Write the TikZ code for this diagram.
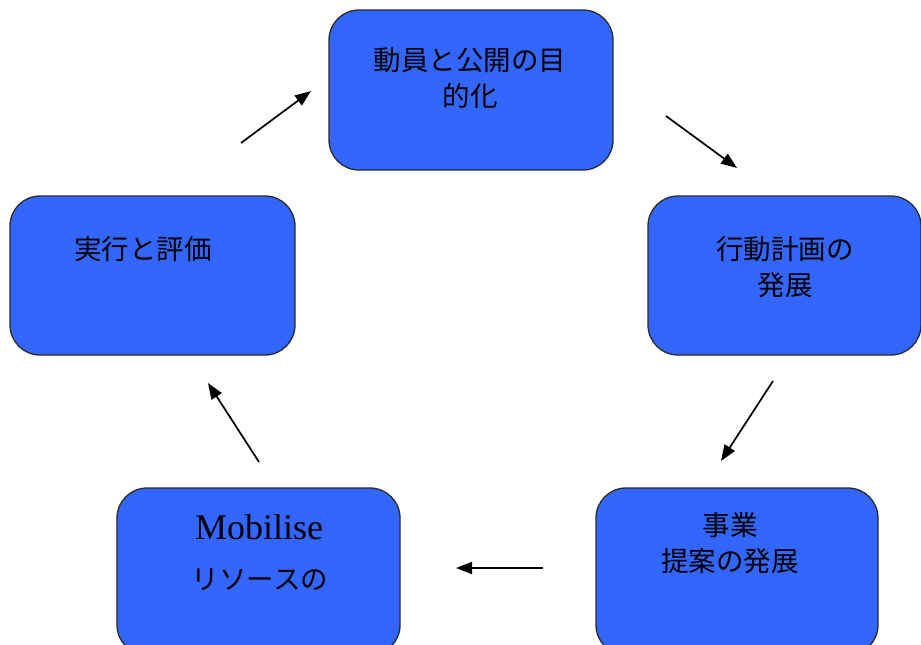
\documentclass[tikz,border=0pt]{standalone}
\usepackage{fontspec}
\setmainfont{Liberation Serif}
\newfontfamily\cjk{Noto Sans CJK JP}[Scale=1]
\usetikzlibrary{arrows.meta}
\definecolor{boxblue}{HTML}{3366FF}
\definecolor{boxline}{HTML}{2A2A2A}
\tikzset{
  x=1pt, y=-1pt,
  stagebox/.style={draw=boxline, line width=1.3pt, fill=boxblue, rounded corners=30pt},
  jtext/.style={font=\cjk\fontsize{27.5}{36}\selectfont, align=center, inner sep=0pt, text=black},
  flowarrow/.style={line width=1.7pt, -{Triangle[length=16pt,width=12pt]}}
}
\begin{document}
\begin{tikzpicture}
\useasboundingbox (0,0) rectangle (921,645);
\fill[white] (0,0) rectangle (921,645);
% boxes
\draw[stagebox] (329,10) rectangle (613,170) node[pos=0, inner sep=0pt] (topbox) {};
\draw[stagebox] (648,196) rectangle (921,355) node[pos=0, inner sep=0pt] (rightbox) {};
\draw[stagebox] (596,488) rectangle (878,655) node[pos=0, inner sep=0pt] (brbox) {};
\draw[stagebox] (117,488) rectangle (400,655) node[pos=0, inner sep=0pt] (blbox) {};
\draw[stagebox] (10,196) rectangle (295,355) node[pos=0, inner sep=0pt] (leftbox) {};
% texts
\node[jtext] (toptext) at (470,78) {動員と公開の目\\的化};
\node[jtext] (righttext) at (785,267) {行動計画の\\発展};
\node[jtext] (brtext) at (730,543) {事業\\提案の発展};
\node[font=\fontsize{36}{38}\selectfont, inner sep=0pt] (mobtext) at (259,527) {Mobilise};
\node[jtext] (bltext) at (260,580) {リソースの};
\node[jtext] (lefttext) at (143,249) {実行と評価};
% arrow endpoints
\coordinate (a1s) at (241,143); \coordinate (a1e) at (311,91);
\coordinate (a2s) at (666,116); \coordinate (a2e) at (737,168);
\coordinate (a3s) at (773,381); \coordinate (a3e) at (721,461);
\coordinate (a4s) at (543,568); \coordinate (a4e) at (456,568);
\coordinate (a5s) at (259,462); \coordinate (a5e) at (208,383);
\draw[flowarrow] (a1s) -- (a1e);
\draw[flowarrow] (a2s) -- (a2e);
\draw[flowarrow] (a3s) -- (a3e);
\draw[flowarrow] (a4s) -- (a4e);
\draw[flowarrow] (a5s) -- (a5e);
\end{tikzpicture}
\end{document}
